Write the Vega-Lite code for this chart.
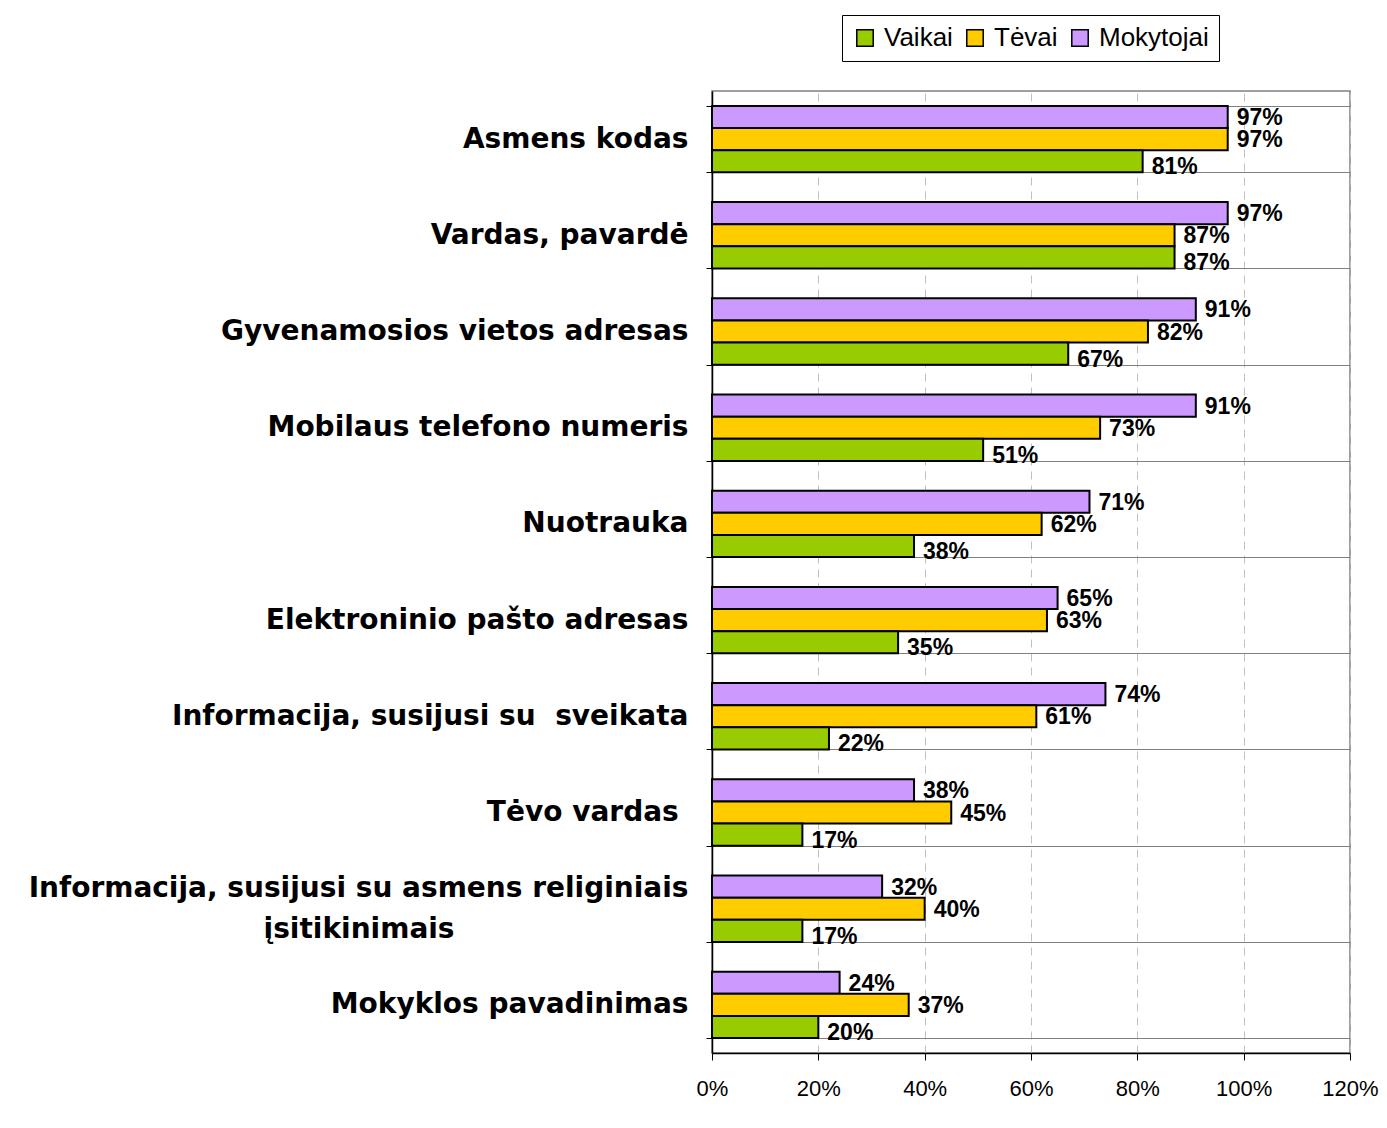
{
  "$schema": "https://vega.github.io/schema/vega-lite/v6.json",
  "autosize": {"type": "none"},
  "width": 638,
  "height": 962,
  "padding": {"left": 712, "top": 91, "right": 37, "bottom": 75},
  "background": "white",
  "config": {
    "font": "Liberation Sans",
    "view": {"stroke": "#808080", "strokeWidth": 1.5}
  },
  "data": {
    "values": [
      {"cat": "Asmens kodas", "group": "Mokytojai", "v": 0.97},
      {"cat": "Asmens kodas", "group": "Tėvai", "v": 0.97},
      {"cat": "Asmens kodas", "group": "Vaikai", "v": 0.81},
      {"cat": "Vardas, pavardė", "group": "Mokytojai", "v": 0.97},
      {"cat": "Vardas, pavardė", "group": "Tėvai", "v": 0.87},
      {"cat": "Vardas, pavardė", "group": "Vaikai", "v": 0.87},
      {"cat": "Gyvenamosios vietos adresas", "group": "Mokytojai", "v": 0.91},
      {"cat": "Gyvenamosios vietos adresas", "group": "Tėvai", "v": 0.82},
      {"cat": "Gyvenamosios vietos adresas", "group": "Vaikai", "v": 0.67},
      {"cat": "Mobilaus telefono numeris", "group": "Mokytojai", "v": 0.91},
      {"cat": "Mobilaus telefono numeris", "group": "Tėvai", "v": 0.73},
      {"cat": "Mobilaus telefono numeris", "group": "Vaikai", "v": 0.51},
      {"cat": "Nuotrauka", "group": "Mokytojai", "v": 0.71},
      {"cat": "Nuotrauka", "group": "Tėvai", "v": 0.62},
      {"cat": "Nuotrauka", "group": "Vaikai", "v": 0.38},
      {"cat": "Elektroninio pašto adresas", "group": "Mokytojai", "v": 0.65},
      {"cat": "Elektroninio pašto adresas", "group": "Tėvai", "v": 0.63},
      {"cat": "Elektroninio pašto adresas", "group": "Vaikai", "v": 0.35},
      {"cat": "Informacija, susijusi su  sveikata", "group": "Mokytojai", "v": 0.74},
      {"cat": "Informacija, susijusi su  sveikata", "group": "Tėvai", "v": 0.61},
      {"cat": "Informacija, susijusi su  sveikata", "group": "Vaikai", "v": 0.22},
      {"cat": "Tėvo vardas ", "group": "Mokytojai", "v": 0.38},
      {"cat": "Tėvo vardas ", "group": "Tėvai", "v": 0.45},
      {"cat": "Tėvo vardas ", "group": "Vaikai", "v": 0.17},
      {"cat": "Informacija, susijusi su asmens religiniais įsitikinimais", "group": "Mokytojai", "v": 0.32},
      {"cat": "Informacija, susijusi su asmens religiniais įsitikinimais", "group": "Tėvai", "v": 0.40},
      {"cat": "Informacija, susijusi su asmens religiniais įsitikinimais", "group": "Vaikai", "v": 0.17},
      {"cat": "Mokyklos pavadinimas", "group": "Mokytojai", "v": 0.24},
      {"cat": "Mokyklos pavadinimas", "group": "Tėvai", "v": 0.37},
      {"cat": "Mokyklos pavadinimas", "group": "Vaikai", "v": 0.20}
    ]
  },
  "encoding": {
    "y": {
      "field": "cat",
      "type": "nominal",
      "sort": null,
      "scale": {"paddingInner": 0.31, "paddingOuter": 0.155},
      "axis": {
        "title": null,
        "tickBand": "extent",
        "grid": true,
        "gridColor": "#808080",
        "gridWidth": 1,
        "domainColor": "black",
        "domainWidth": 1.5,
        "tickColor": "black",
        "tickSize": 6,
        "labelFont": "DejaVu Sans",
        "labelFontSize": 28,
        "labelFontWeight": "bold",
        "labelColor": "black",
        "labelPadding": 18,
        "labelLimit": 700,
        "labelLineHeight": 41,
        "labelExpr": "datum.value == 'Informacija, susijusi su asmens religiniais įsitikinimais' ? ['Informacija, susijusi su asmens religiniais', 'įsitikinimais\u00a0\u00a0\u00a0\u00a0\u00a0\u00a0\u00a0\u00a0\u00a0\u00a0\u00a0\u00a0\u00a0\u00a0\u00a0\u00a0\u00a0\u00a0\u00a0\u00a0\u00a0\u00a0\u00a0\u00a0\u200b'] : datum.value == 'Tėvo vardas ' ? 'Tėvo vardas\u00a0\u200b' : datum.value == 'Informacija, susijusi su  sveikata' ? 'Informacija, susijusi su\u00a0 sveikata' : datum.label",
        "encoding": {
          "labels": {
            "dy": {"condition": {"test": "datum.value === 'Informacija, susijusi su asmens religiniais įsitikinimais'", "value": -20}, "value": 0}
          }
        }
      }
    },
    "yOffset": {
      "field": "group",
      "type": "nominal",
      "sort": ["Mokytojai", "Tėvai", "Vaikai"],
      "scale": {"paddingInner": 0, "paddingOuter": 0}
    },
    "x": {
      "field": "v",
      "type": "quantitative",
      "scale": {"domain": [0, 1.2], "nice": false},
      "axis": {
        "title": null,
        "format": ".0%",
        "values": [0, 0.2, 0.4, 0.6, 0.8, 1.0, 1.2],
        "grid": true,
        "gridDash": [8, 6],
        "gridColor": "#c0c0c0",
        "domainColor": "black",
        "domainWidth": 1.5,
        "tickColor": "black",
        "tickSize": 7,
        "labelFontSize": 22,
        "labelColor": "black",
        "labelPadding": 18,
        "labelFlush": false,
        "labelBound": false,
        "labelOverlap": false
      }
    }
  },
  "layer": [
    {
      "mark": {"type": "bar", "stroke": "black", "strokeWidth": 2},
      "encoding": {
        "color": {
          "field": "group",
          "type": "nominal",
          "scale": {"domain": ["Vaikai", "Tėvai", "Mokytojai"], "range": ["#99cc00", "#ffcc00", "#cc99ff"]},
          "legend": {
            "title": null,
            "orient": "none",
            "direction": "horizontal",
            "legendX": 130,
            "legendY": -76,
            "symbolType": "square",
            "symbolSize": 270,
            "symbolStrokeColor": "black",
            "symbolStrokeWidth": 1.5,
            "labelFontSize": 26,
            "labelColor": "black",
            "columnPadding": 9,
            "labelOffset": 6,
            "strokeColor": "black",
            "padding": 10,
            "fillColor": "white"
          }
        }
      }
    },
    {
      "transform": [{"filter": "datum.group != 'Vaikai'"}],
      "mark": {"type": "text", "align": "left", "baseline": "middle", "dx": 9, "dy": 1, "fontSize": 23, "fontWeight": "bold", "color": "black"},
      "encoding": {
        "text": {"field": "v", "type": "quantitative", "format": ".0%"}
      }
    },
    {
      "transform": [{"filter": "datum.group == 'Vaikai'"}],
      "mark": {"type": "text", "align": "left", "baseline": "middle", "dx": 9, "dy": 6, "fontSize": 23, "fontWeight": "bold", "color": "black"},
      "encoding": {
        "text": {"field": "v", "type": "quantitative", "format": ".0%"}
      }
    }
  ]
}
